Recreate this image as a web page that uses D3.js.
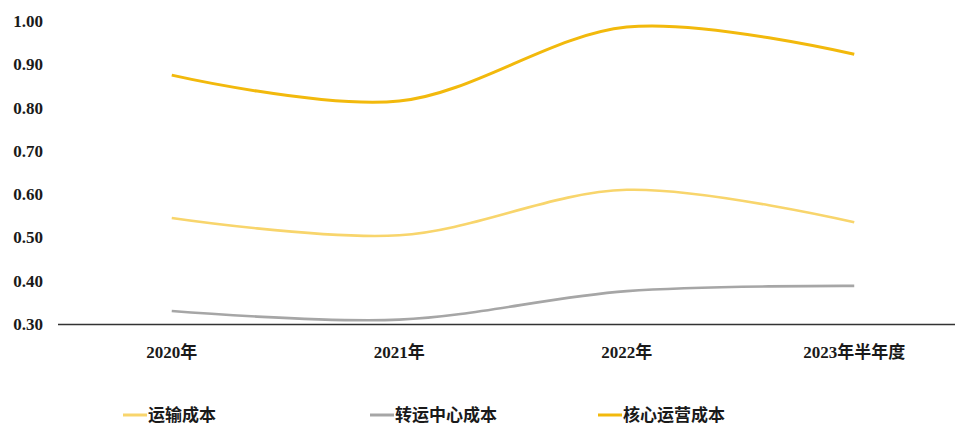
<!DOCTYPE html>
<html><head><meta charset="utf-8">
<script src="https://cdn.jsdelivr.net/npm/d3@7/dist/d3.min.js"></script>
<style>
html,body{margin:0;padding:0;background:#fff;}
svg{display:block;}
</style></head>
<body><svg id="c" width="955" height="425"></svg>
<script>
const categories = ["2020年", "2021年", "2022年", "2023年半年度"];
const transport = [0.545, 0.505, 0.610, 0.535];
const transfer = [0.330, 0.310, 0.376, 0.388];
const core = [0.875, 0.815, 0.986, 0.923];
const yTicks = [0.30, 0.40, 0.50, 0.60, 0.70, 0.80, 0.90, 1.00];
const seriesNames = ["运输成本", "转运中心成本", "核心运营成本"];
const seriesColors = ["#F8D56C", "#A6A6A6", "#F2B90C"];

const series = [
  {name: seriesNames[0], values: transport, color: seriesColors[0], w: 2.6},
  {name: seriesNames[1], values: transfer, color: seriesColors[1], w: 2.6},
  {name: seriesNames[2], values: core, color: seriesColors[2], w: 3}
];

const svg = d3.select("#c");
const x = d3.scaleBand().domain(categories).range([58, 968]);
const y = d3.scaleLinear().domain([0.30, 1.00]).range([324, 21]);
const cx = d => x(d) + x.bandwidth() / 2;

// y labels
svg.append("g").selectAll("text").data(yTicks).join("text")
  .attr("x", 43).attr("y", d => y(d)).attr("dy", "0.35em")
  .attr("text-anchor", "end")
  .attr("font-family", "Liberation Serif, serif").attr("font-weight", "bold")
  .attr("font-size", 17).attr("fill", "#1a1a1a")
  .text(d => d.toFixed(2));

// x axis line
svg.append("line").attr("x1", 58).attr("x2", 955)
  .attr("y1", y(0.30) + 0.5).attr("y2", y(0.30) + 0.5)
  .attr("stroke", "#333333").attr("stroke-width", 1.4);

// x labels
svg.append("g").selectAll("text").data(categories).join("text")
  .attr("x", d => cx(d)).attr("y", 352).attr("dy", "0.35em")
  .attr("text-anchor", "middle")
  .attr("font-family", "Liberation Serif, 'Noto Sans CJK SC', serif").attr("font-weight", "bold")
  .attr("font-size", 17).attr("fill", "#1a1a1a")
  .text(d => d);

// lines
const line = d3.line().x((d, i) => cx(categories[i])).y(d => y(d)).curve(d3.curveCardinal.tension(0));
series.forEach(s => {
  svg.append("path").datum(s.values).attr("d", line)
    .attr("fill", "none").attr("stroke", s.color).attr("stroke-width", s.w)
    .attr("stroke-linecap", "butt");
});

// legend
const legX = [123, 370, 598];
const lg = svg.append("g").selectAll("g").data(series).join("g")
  .attr("transform", (d, i) => `translate(${legX[i]},415)`);
lg.append("line").attr("x1", 0).attr("x2", 24).attr("y1", 0).attr("y2", 0)
  .attr("stroke", d => d.color).attr("stroke-width", 3);
lg.append("text").attr("x", 25).attr("y", 0).attr("dy", "0.36em")
  .attr("font-family", "'Noto Sans CJK SC', sans-serif").attr("font-weight", "bold")
  .attr("font-size", 17).attr("fill", "#1a1a1a")
  .text(d => d.name);
</script>
</body></html>
